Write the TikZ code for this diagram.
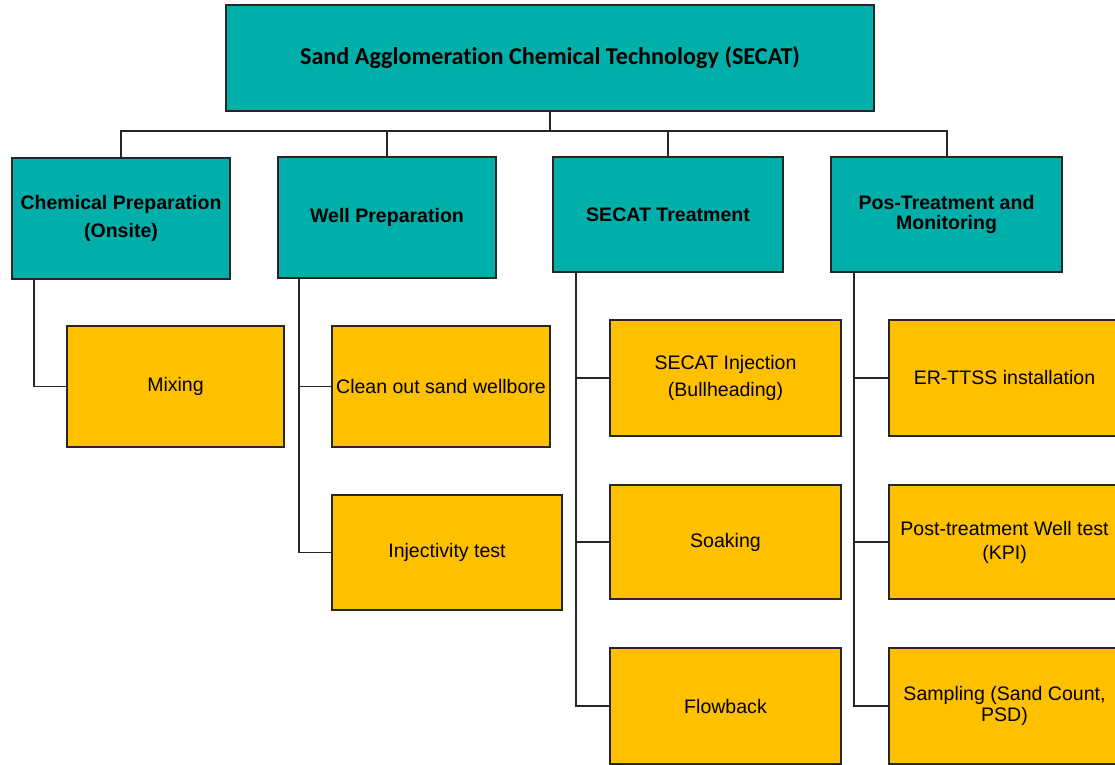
\documentclass[tikz,border=0pt]{standalone}
\usepackage{fontspec}
\setmainfont{Liberation Sans}
\newfontfamily\titlefont[Ligatures=NoCommon]{Carlito}
\usetikzlibrary{positioning}

\definecolor{secatteal}{HTML}{00AFA9}
\definecolor{secatgold}{HTML}{FFC000}

\tikzset{
  box/.style={draw=black!85, line width=1.3pt, align=center, inner sep=2pt},
  head/.style={box, fill=secatteal, font=\bfseries\fontsize{13.9}{20.5}\selectfont},
  task/.style={box, fill=secatgold, font=\fontsize{13.9}{19}\selectfont},
  link/.style={draw=black!85, line width=1.4pt}
}

\begin{document}
\begin{tikzpicture}[x=0.025cm, y=-0.025cm]
\clip (0,0) rectangle (1115,764);

% top box
\node[head, font=\titlefont\bfseries\fontsize{17.2}{20}\selectfont,
  minimum width=16.2cm, minimum height=2.65cm] (root) at (550,58)
  {Sand Agglomeration Chemical Technology (SECAT)};

% main stages
\node[head, minimum width=5.45cm, minimum height=3.025cm] (chem) at (121,218.5)
  {Chemical Preparation\\(Onsite)};
\node[head, minimum width=5.45cm, minimum height=3.025cm] (well) at (387,217.5)
  {Well Preparation};
\node[head, minimum width=5.75cm, minimum height=2.875cm] (treat) at (668,214.5)
  {SECAT Treatment};
\node[head, font=\bfseries\fontsize{13.9}{14.2}\selectfont,
  minimum width=5.775cm, minimum height=2.875cm] (post) at (946.5,214.5)
  {Pos-Treatment and\\Monitoring};

% tasks
\node[task, minimum width=5.425cm, minimum height=3.025cm] (mix) at (175.5,386.5) {Mixing};
\node[task, minimum width=5.45cm, minimum height=3.025cm] (clean) at (441,386.5) {Clean out sand wellbore};
\node[task, minimum width=5.75cm, minimum height=2.875cm] (inject) at (447,552.5) {Injectivity test};

\node[task, font=\fontsize{13.9}{19}\selectfont,
  minimum width=5.775cm, minimum height=2.9cm] (bull) at (725.5,378) {SECAT Injection\\(Bullheading)};
\node[task, minimum width=5.775cm, minimum height=2.85cm] (soak) at (725.5,542) {Soaking};
\node[task, minimum width=5.775cm, minimum height=2.9cm] (flow) at (725.5,706) {Flowback};

\node[task, minimum width=5.775cm, minimum height=2.9cm] (ertt) at (1004.5,378) {ER-TTSS installation};
\node[task, font=\fontsize{13.9}{17}\selectfont,
  minimum width=5.775cm, minimum height=2.85cm] (kpi) at (1004.5,542) {Post-treatment Well test\\(KPI)};
\node[task, font=\fontsize{13.9}{15}\selectfont,
  minimum width=5.775cm, minimum height=2.9cm] (sample) at (1004.5,706) {Sampling (Sand Count,\\PSD)};

% connectors
\coordinate (bus) at (550,131);
\draw[link] (root) -- (bus);
\foreach \n in {chem,well,treat,post}
  \draw[link] (bus) -| (\n.north);

\draw[link] ([xshift=0.575cm]chem.south west) |- (mix.west);
\foreach \n in {clean,inject}
  \draw[link] ([xshift=0.55cm]well.south west) |- (\n.west);
\foreach \n in {bull,soak,flow}
  \draw[link] ([xshift=0.6cm]treat.south west) |- (\n.west);
\foreach \n in {ertt,kpi,sample}
  \draw[link] ([xshift=0.6cm]post.south west) |- (\n.west);
\end{tikzpicture}
\end{document}
